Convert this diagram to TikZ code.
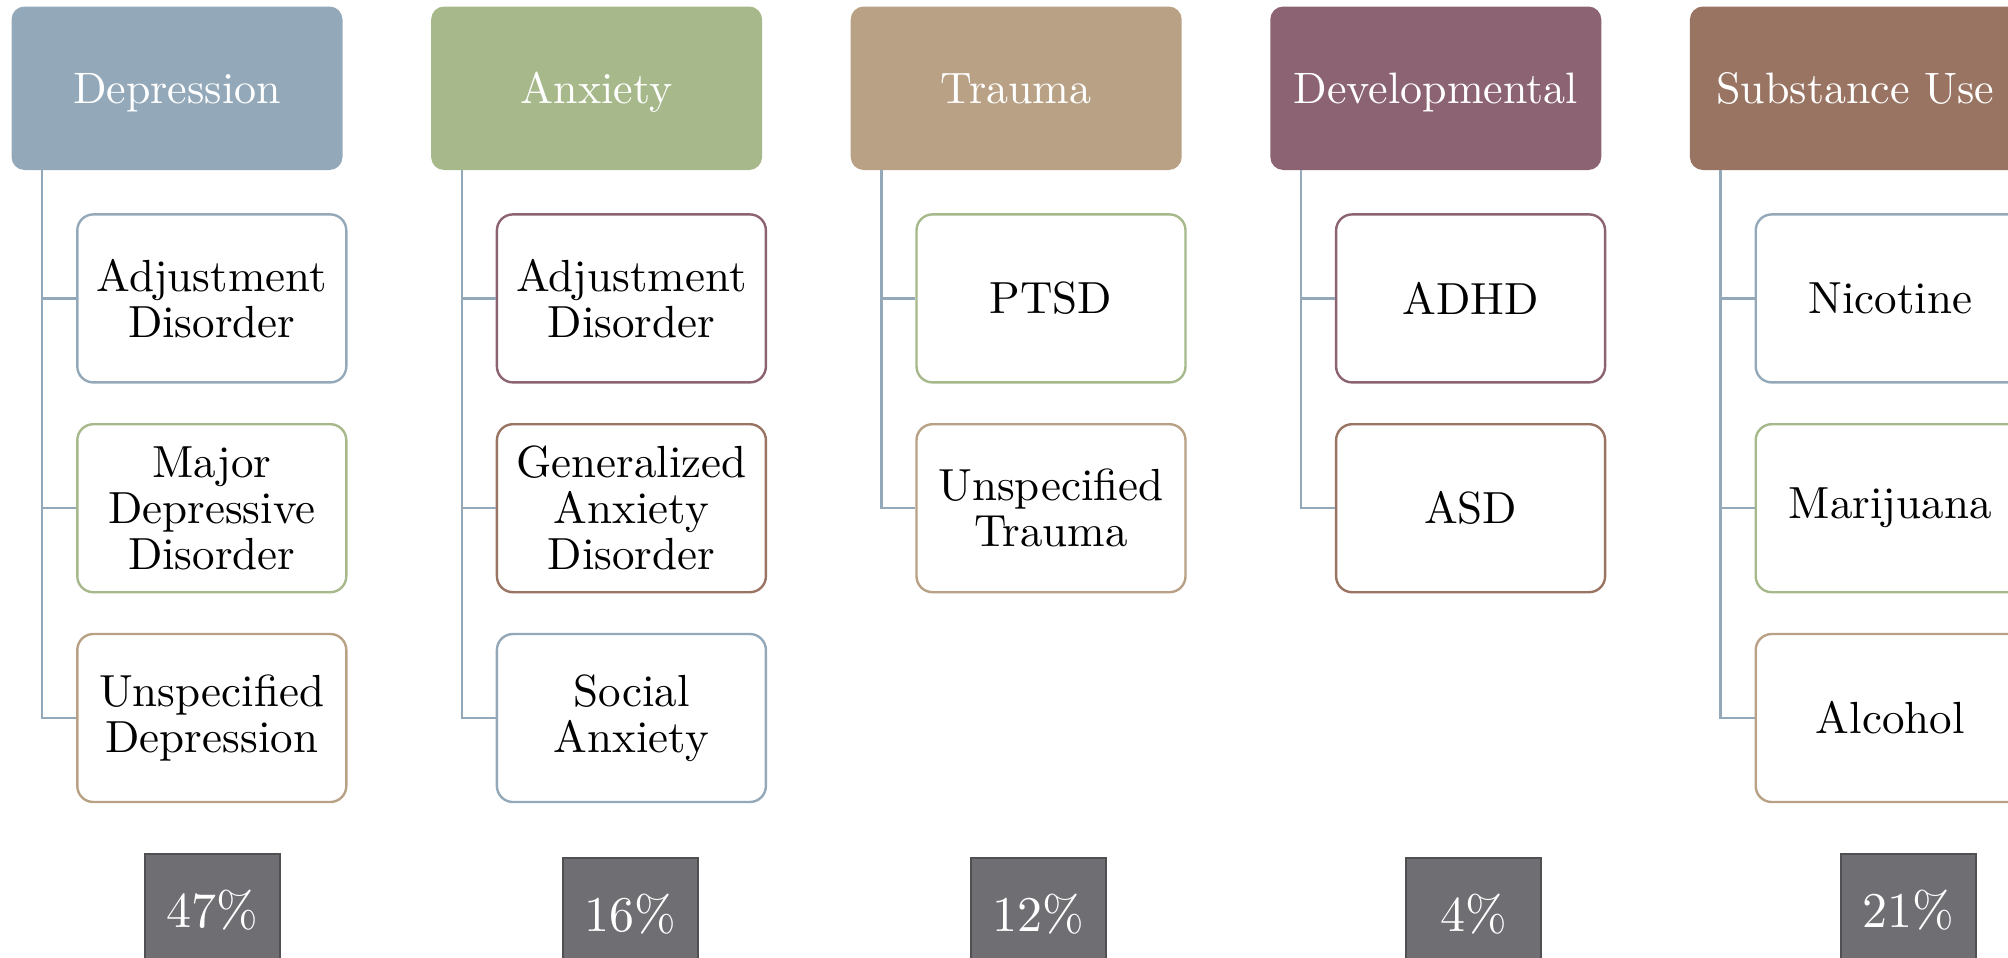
\documentclass[tikz,border=0pt]{standalone}
\usepackage{fontspec}
\setmainfont{lmroman10-regular.otf}
\usepackage{tikz}
\usetikzlibrary{positioning}

\definecolor{cblue}{HTML}{93A9B9}
\definecolor{cgreen}{HTML}{A7B98B}
\definecolor{ctan}{HTML}{B8A185}
\definecolor{cmauve}{HTML}{8C6372}
\definecolor{cbrown}{HTML}{9A7462}
\definecolor{pfill}{HTML}{6F6E73}
\definecolor{pline}{HTML}{505052}

\begin{document}
\begin{tikzpicture}[x=0.5pt, y=-0.5pt,
  head/.style={rounded corners=6.5pt, fill=#1, text=white, minimum width=165.5pt,
    minimum height=81.75pt, inner sep=0pt, text height=15pt, text depth=0pt,
    font=\fontsize{22}{23}\selectfont},
  item/.style={draw=#1, line width=1.2pt, rounded corners=8pt, fill=white, minimum width=134.5pt,
    minimum height=84pt, inner sep=0pt, align=center, font=\fontsize{22.5}{23}\selectfont},
  pct/.style={draw=pline, line width=1pt, fill=pfill, text=white, minimum width=67.5pt,
    minimum height=56pt, inner sep=0pt, font=\fontsize{25}{26}\selectfont},
  link/.style={draw=cblue, line width=1.2pt}]
 \clip (0,0) rectangle (2008,958);

 \node[head=cblue] (dep) at (177,88.25) {Depression};
 \node[head=cgreen, right=43.9pt of dep] (anx) {Anxiety};
 \node[head=ctan, right=43.9pt of anx] (tra) {Trauma};
 \node[head=cmauve, right=43.9pt of tra] (dev) {Developmental};
 \node[head=cbrown, right=43.9pt of dev] (sub) {Substance Use};

 \node[item=cblue, below right=21.4pt and 32.5pt of dep.south west] (dep-1) {Adjustment\\Disorder};
 \node[item=cgreen, below=19.7pt of dep-1] (dep-2) {Major\\Depressive\\Disorder};
 \node[item=ctan, below=19.7pt of dep-2] (dep-3) {Unspecified\\Depression};

 \node[item=cmauve, below right=21.4pt and 32.5pt of anx.south west] (anx-1) {Adjustment\\Disorder};
 \node[item=cbrown, below=19.7pt of anx-1] (anx-2) {Generalized\\Anxiety\\Disorder};
 \node[item=cblue, below=19.7pt of anx-2] (anx-3) {Social\\Anxiety};

 \node[item=cgreen, below right=21.4pt and 32.5pt of tra.south west] (tra-1) {PTSD};
 \node[item=ctan, below=19.7pt of tra-1] (tra-2) {Unspecified\\Trauma};

 \node[item=cmauve, below right=21.4pt and 32.5pt of dev.south west] (dev-1) {ADHD};
 \node[item=cbrown, below=19.7pt of dev-1] (dev-2) {ASD};

 \node[item=cblue, below right=21.4pt and 32.5pt of sub.south west] (sub-1) {Nicotine};
 \node[item=cgreen, below=19.7pt of sub-1] (sub-2) {Marijuana};
 \node[item=ctan, below=19.7pt of sub-2] (sub-3) {Alcohol};

 \coordinate (dep-t) at ([xshift=15.5pt]dep.south west);
 \coordinate (anx-t) at ([xshift=15.5pt]anx.south west);
 \coordinate (tra-t) at ([xshift=15.5pt]tra.south west);
 \coordinate (dev-t) at ([xshift=15.5pt]dev.south west);
 \coordinate (sub-t) at ([xshift=15.5pt]sub.south west);

 \path[link]
  (dep-t) |- (dep-1.west) (dep-t) |- (dep-2.west) (dep-t) |- (dep-3.west)
  (anx-t) |- (anx-1.west) (anx-t) |- (anx-2.west) (anx-t) |- (anx-3.west)
  (tra-t) |- (tra-1.west) (tra-t) |- (tra-2.west)
  (dev-t) |- (dev-1.west) (dev-t) |- (dev-2.west)
  (sub-t) |- (sub-1.west) (sub-t) |- (sub-2.west) (sub-t) |- (sub-3.west);

 \node[pct] (dep-p) at (212,910) {47\%};
 \node[pct] (anx-p) at (630.5,914) {16\%};
 \node[pct] (tra-p) at (1038,914) {12\%};
 \node[pct] (dev-p) at (1473.5,914) {4\%};
 \node[pct] (sub-p) at (1908.5,910) {21\%};
\end{tikzpicture}
\end{document}
